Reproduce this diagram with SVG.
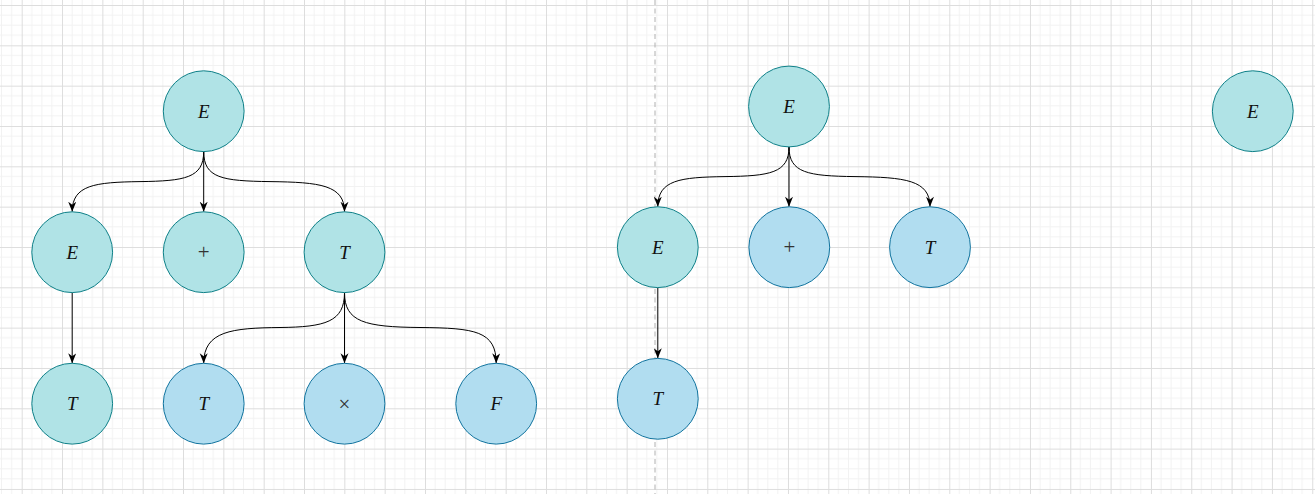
<svg xmlns="http://www.w3.org/2000/svg" width="1315" height="494" viewBox="0 0 1315 494">
<defs>
<pattern id="grid" patternUnits="userSpaceOnUse" x="21.7" y="5" width="40.33" height="40.33">
<path d="M10.08,0V40.33M20.17,0V40.33M30.25,0V40.33M0,10.08H40.33M0,20.17H40.33M0,30.25H40.33" stroke="#f2f2f2" stroke-width="1" fill="none"/>
<path d="M0.5,0V40.33M0,0.5H40.33" stroke="#dddddd" stroke-width="1" fill="none"/>
</pattern>
<marker id="arr" markerUnits="userSpaceOnUse" viewBox="0 0 10 8" markerWidth="10" markerHeight="8.5" refX="10" refY="4" orient="auto">
<path d="M0,0 L10,4 L0,8 L3,4 Z" fill="#000"/>
</marker>
</defs>
<style>
.teal{fill:#b0e3e6;stroke:#0e8088;stroke-width:1}
.blue{fill:#b1ddf0;stroke:#10739e;stroke-width:1}
.lbl{font-family:"Liberation Serif","DejaVu Serif",serif;font-size:19px;font-style:italic;fill:#111;text-anchor:middle}
.op{font-family:"Liberation Serif","DejaVu Serif",serif;font-size:21px;fill:#333;text-anchor:middle}
.edge{fill:none;stroke:#000;stroke-width:1;marker-end:url(#arr)}
</style>
<rect width="1315" height="494" fill="#ffffff"/>
<rect width="1315" height="494" fill="url(#grid)"/>
<line x1="655" y1="0" x2="655" y2="494" stroke="#b0b0b0" stroke-width="1" stroke-dasharray="5 3.5"/>
<g id="connectors">
<path class="edge" d="M203.7,151.5 C203.7,178 185,181 140,181.6 C95,182.2 72.2,185 72.2,211.7"/>
<path class="edge" d="M203.7,151.5 L203.7,211.7"/>
<path class="edge" d="M203.7,151.5 C203.7,178 222,181 270,181.6 C320,182.2 344.5,185 344.5,211.7"/>
<path class="edge" d="M72.2,292.7 L72.2,363.3"/>
<path class="edge" d="M344.5,292.7 C344.5,322 325,327 280,327.5 C232,328 203.7,331 203.7,363.3"/>
<path class="edge" d="M344.5,292.7 L344.5,363.3"/>
<path class="edge" d="M344.5,292.7 C344.5,322 365,327 420,327.5 C475,328 496.2,331 496.2,363.3"/>
<path class="edge" d="M789,147 C789,173 770,176 725,176.6 C680,177.2 657.8,180 657.8,206.7"/>
<path class="edge" d="M789,147 L789,206.7"/>
<path class="edge" d="M789,147 C789,173 808,176 855,176.6 C905,177.2 930,180 930,206.7"/>
<path class="edge" d="M657.8,287.7 L657.8,358.3"/>
</g>
<g id="n1"><circle class="teal" cx="203.7" cy="111.2" r="40.4"/><text class="lbl" x="203.7" y="117.5">E</text></g>
<g id="n2"><circle class="teal" cx="72.2" cy="252.2" r="40.4"/><text class="lbl" x="72.2" y="258.5">E</text></g>
<g id="n3"><circle class="teal" cx="203.7" cy="252.2" r="40.4"/><text class="op" x="203.7" y="259">+</text></g>
<g id="n4"><circle class="teal" cx="344.5" cy="252.2" r="40.4"/><text class="lbl" x="344.5" y="258.5">T</text></g>
<g id="n5"><circle class="teal" cx="72.2" cy="403.7" r="40.4"/><text class="lbl" x="72.2" y="410">T</text></g>
<g id="n6"><circle class="blue" cx="203.7" cy="403.7" r="40.4"/><text class="lbl" x="203.7" y="410">T</text></g>
<g id="n7"><circle class="blue" cx="344.5" cy="403.7" r="40.4"/><text class="op" x="344.5" y="410.5">×</text></g>
<g id="n8"><circle class="blue" cx="496.2" cy="403.7" r="40.4"/><text class="lbl" x="496.2" y="410">F</text></g>
<g id="n9"><circle class="teal" cx="789" cy="106.5" r="40.4"/><text class="lbl" x="789" y="112.8">E</text></g>
<g id="n10"><circle class="teal" cx="657.8" cy="247.2" r="40.4"/><text class="lbl" x="657.8" y="253.5">E</text></g>
<g id="n11"><circle class="blue" cx="789.3" cy="247.2" r="40.4"/><text class="op" x="789.3" y="254">+</text></g>
<g id="n12"><circle class="blue" cx="930" cy="247.2" r="40.4"/><text class="lbl" x="930" y="253.5">T</text></g>
<g id="n13"><circle class="blue" cx="657.8" cy="398.8" r="40.4"/><text class="lbl" x="657.8" y="405.1">T</text></g>
<g id="n14"><circle class="teal" cx="1252.8" cy="111.2" r="40.4"/><text class="lbl" x="1252.8" y="117.5">E</text></g>
</svg>
